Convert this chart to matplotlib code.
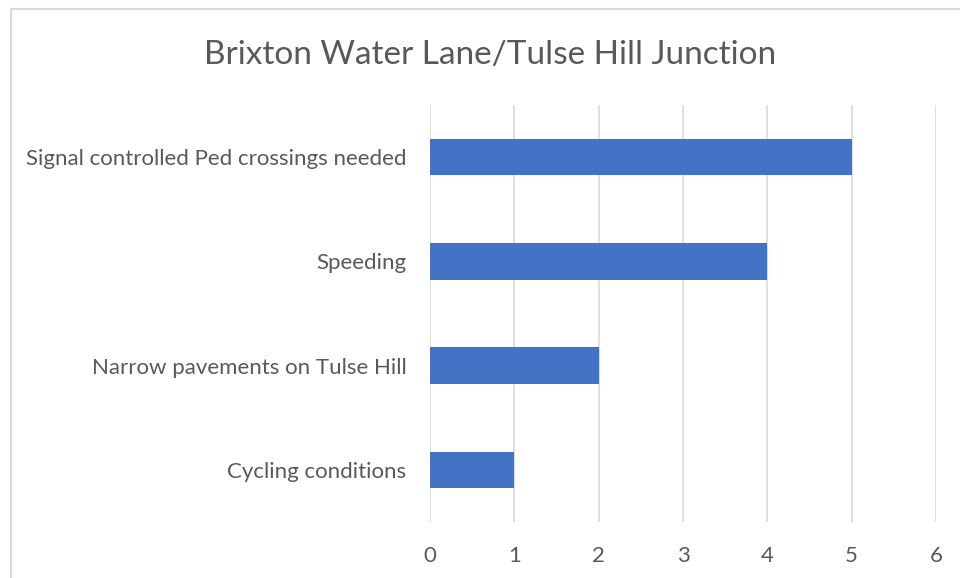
import matplotlib.pyplot as plt
from matplotlib.patches import Rectangle

# data
categories = ['Signal controlled Ped crossings needed', 'Speeding',
              'Narrow pavements on Tulse Hill', 'Cycling conditions']
counts = [5, 4, 2, 1]
xticks = [0, 1, 2, 3, 4, 5, 6]

plt.rcParams['font.family'] = ['Lato', 'DejaVu Sans']

fig = plt.figure(figsize=(9.6, 5.78), dpi=100)
ax = fig.add_axes([0.4479, 0.0969, 0.5271, 0.7214])

ypos = list(range(len(categories)))
ax.barh(ypos, counts, height=0.35, color='#4472C4', zorder=3)

ax.set_ylim(len(categories) - 0.5, -0.5)
ax.set_xlim(0, 6)
ax.set_xticks(xticks)
ax.set_yticks(ypos)
ax.set_yticklabels(categories)
ax.grid(axis='x', color='#d9d9d9', linewidth=1.2, zorder=0)
for s in ax.spines.values():
    s.set_visible(False)
ax.tick_params(axis='both', length=0, labelsize=16, colors='#595959')
ax.tick_params(axis='x', pad=17)
ax.tick_params(axis='y', pad=17)

fig.text(0.51, 0.905, 'Brixton Water Lane/Tulse Hill Junction',
         ha='center', va='center', fontsize=24, color='#595959')

# chart border
fig.add_artist(Rectangle((11 / 960, -0.1), 1.2, 1 - 9 / 578 + 0.1,
                         transform=fig.transFigure, fill=False,
                         edgecolor='#d9d9d9', linewidth=1.5))

fig.savefig('out.png', dpi=100)
